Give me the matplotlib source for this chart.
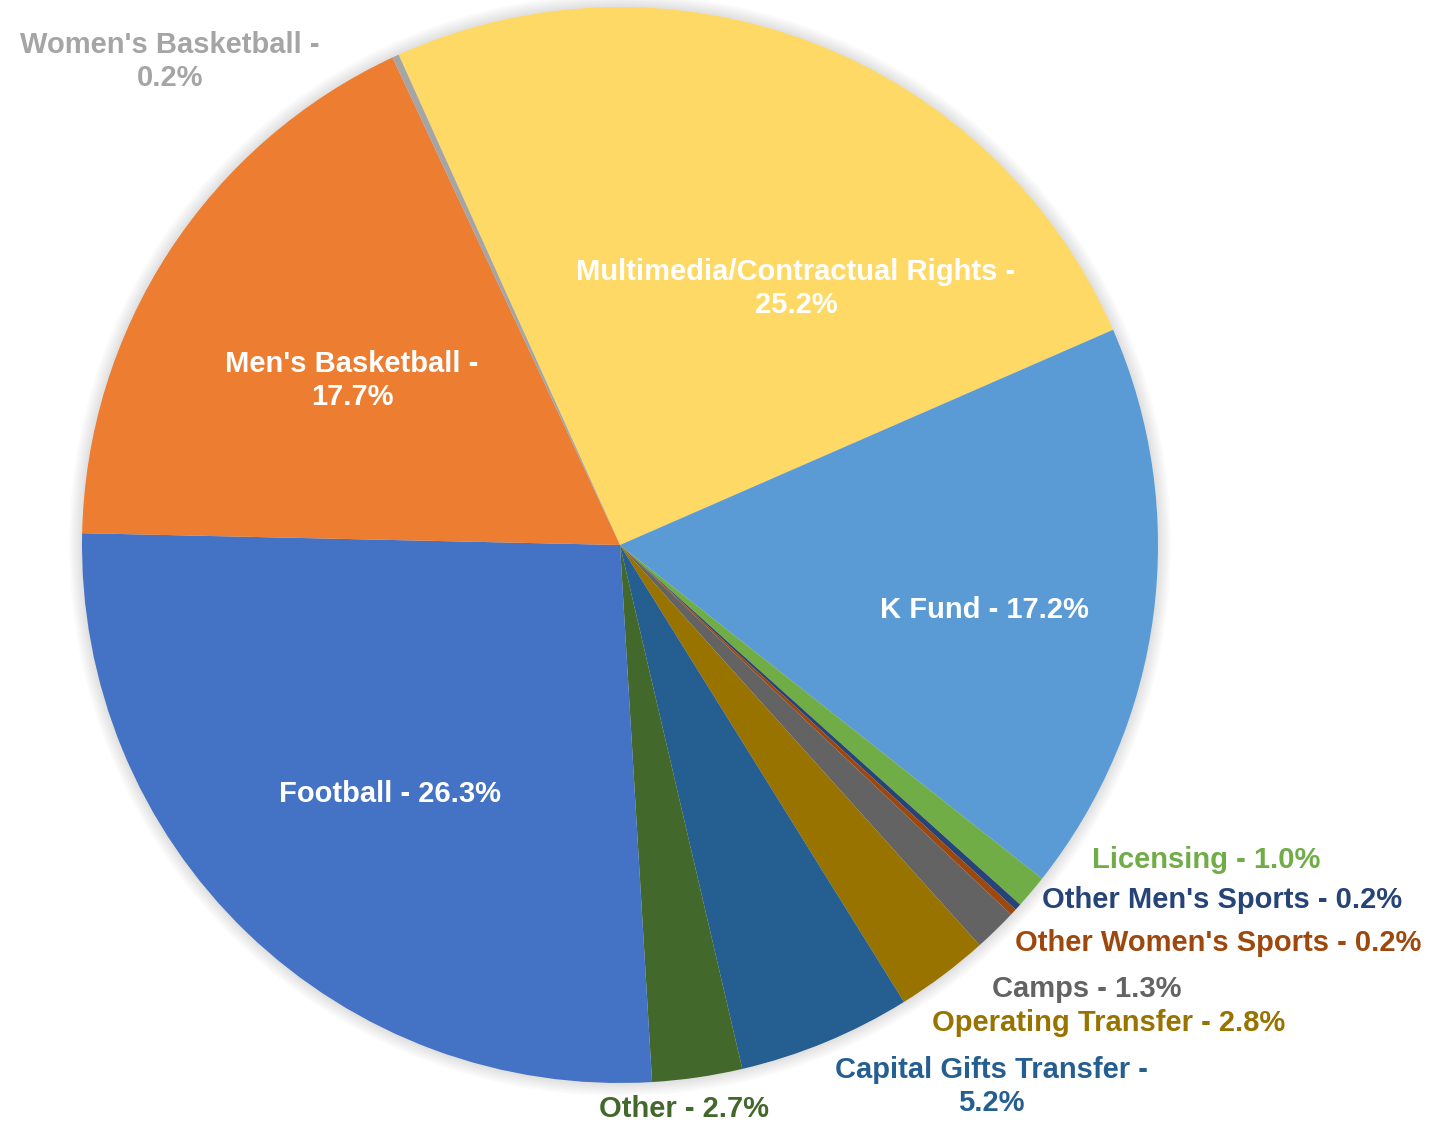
import matplotlib.pyplot as plt
from matplotlib.patches import Circle

plt.rcParams['font.family'] = ['Liberation Sans', 'DejaVu Sans']

# slices, clockwise starting from the top-left boundary
categories = ["Multimedia/Contractual Rights", "K Fund", "Licensing",
              "Other Men's Sports", "Other Women's Sports", "Camps",
              "Operating Transfer", "Capital Gifts Transfer", "Other",
              "Football", "Men's Basketball", "Women's Basketball"]
shares = [25.2, 17.2, 1.0, 0.2, 0.2, 1.3, 2.8, 5.2, 2.7, 26.3, 17.7, 0.2]
colors = ["#FFD966", "#5B9BD5", "#70AD47", "#264478", "#9E480E", "#636363",
          "#997300", "#255E91", "#43682B", "#4472C4", "#ED7D31", "#A5A5A5"]
label_text = ["Multimedia/Contractual Rights -\n25.2%", "K Fund - 17.2%",
              "Licensing - 1.0%", "Other Men's Sports - 0.2%",
              "Other Women's Sports - 0.2%", "Camps - 1.3%",
              "Operating Transfer - 2.8%", "Capital Gifts Transfer -\n5.2%",
              "Other - 2.7%", "Football - 26.3%", "Men's Basketball -\n17.7%",
              "Women's Basketball -\n0.2%"]
label_colors = ["white", "white", "#70AD47", "#264478", "#9E480E", "#636363",
                "#997300", "#255E91", "#43682B", "white", "white", "#A5A5A5"]

# label centres in pie-radius units
label_pos = [(0.327, 0.476), (0.678, -0.121), (1.089, -0.586), (1.119, -0.660),
             (1.112, -0.740), (0.868, -0.825), (0.909, -0.888), (0.691, -1.007),
             (0.119, -1.048), (-0.428, -0.463), (-0.498, 0.305), (-0.836, 0.898)]

fig = plt.figure(figsize=(14.3, 11.25), dpi=100)
ax = fig.add_axes([0, 0, 1, 1])

# soft shadow around the pie
for i in range(6):
    ax.add_patch(Circle((0, 0), 1.0 + 0.004 * (i + 1), color='black',
                        alpha=0.02, lw=0, zorder=0))

ax.pie(shares, colors=colors, startangle=114.3, counterclock=False,
       radius=1.0, center=(0, 0), frame=True,
       wedgeprops=dict(linewidth=0, zorder=1))
ax.set_xlim(-620 / 538, 810 / 538)
ax.set_ylim(-580 / 538, 545 / 538)
ax.set_aspect('auto')
ax.axis('off')

for txt, c, (x, y) in zip(label_text, label_colors, label_pos):
    ax.text(x, y, txt, color=c, fontsize=21, fontweight='bold',
            ha='center', va='center', linespacing=1.22, zorder=5)

fig.savefig('out.png', dpi=100)
